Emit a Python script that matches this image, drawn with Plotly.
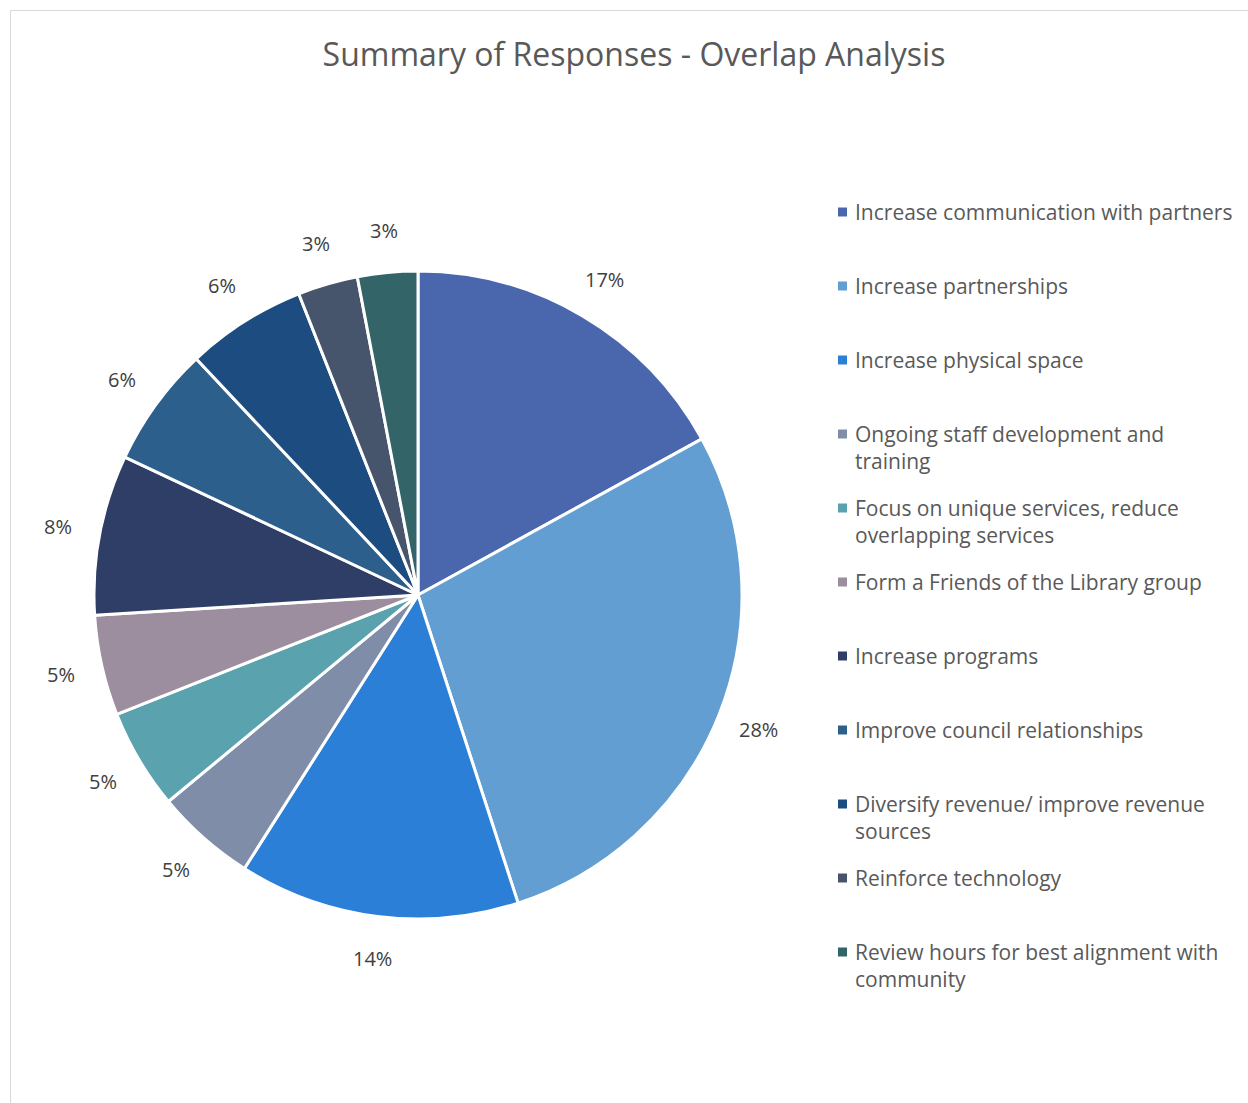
import math
import plotly.graph_objects as go

W, H = 1248, 1103

categories = [
    "Increase communication with partners",
    "Increase partnerships",
    "Increase physical space",
    "Ongoing staff development and<br>training",
    "Focus on unique services, reduce<br>overlapping services",
    "Form a Friends of the Library group",
    "Increase programs",
    "Improve council relationships",
    "Diversify revenue/ improve revenue<br>sources",
    "Reinforce technology",
    "Review hours for best alignment with<br>community",
]
percentages = [17, 28, 14, 5, 5, 5, 8, 6, 6, 3, 3]
colors = [
    "#4A67AD", "#629ED1", "#2C7FD7", "#7F8DA8", "#5AA2AE", "#9C8E9E",
    "#2E3E66", "#2D5F8C", "#1C4C80", "#46546C", "#336568",
]

FONT = "Open Sans"


def px(x):
    return x / W


def py(y):
    return 1 - y / H


# pie geometry in pixels
cx, cy, r = 418, 595, 324
label_r = r + 42

fig = go.Figure(
    go.Pie(
        labels=[c.replace("<br>", " ") for c in categories],
        values=percentages,
        sort=False,
        direction="clockwise",
        rotation=0,
        marker=dict(colors=colors, line=dict(color="white", width=3)),
        textinfo="none",
        hoverinfo="label+percent",
        showlegend=False,
        domain=dict(x=[px(cx - r), px(cx + r)], y=[py(cy + r), py(cy - r)]),
    )
)

shapes = [
    dict(type="rect", xref="paper", yref="paper",
         x0=px(10.5), y0=py(10.5), x1=px(W + 20), y1=py(H + 20),
         line=dict(color="#D9D9D9", width=1), fillcolor="rgba(0,0,0,0)")
]
annotations = []

# percentage labels placed outside each slice at its mid-angle
total = sum(percentages)
cum = 0
for v in percentages:
    theta = 2 * math.pi * (cum + v / 2) / total
    cum += v
    lx = cx + label_r * math.sin(theta)
    ly = cy - label_r * math.cos(theta)
    annotations.append(dict(
        x=px(lx), y=py(ly), xref="paper", yref="paper",
        xanchor="center", yanchor="middle", showarrow=False,
        text=f"{v}%", font=dict(family=FONT, size=20, color="#404040"),
    ))

# legend drawn as swatches + labels
first_line_y = 212
step = 74
sq = 9
for i, (name, col) in enumerate(zip(categories, colors)):
    yc = first_line_y + i * step
    shapes.append(dict(type="rect", xref="paper", yref="paper",
                       x0=px(838), x1=px(838 + sq), y0=py(yc - sq / 2), y1=py(yc + sq / 2),
                       line=dict(width=0), fillcolor=col))
    annotations.append(dict(
        x=px(853), y=py(yc - 16), xref="paper", yref="paper",
        xanchor="left", yanchor="top", align="left", showarrow=False,
        text=name, font=dict(family=FONT, size=21, color="#595959"),
    ))

fig.update_layout(
    width=W, height=H,
    margin=dict(l=0, r=0, t=0, b=0),
    paper_bgcolor="white",
    title=dict(text="Summary of Responses - Overlap Analysis",
               x=px(634), xanchor="center", y=py(55), yanchor="middle",
               font=dict(family=FONT, size=32, color="#595959")),
    shapes=shapes,
    annotations=annotations,
)

fig.write_html("out.html")
